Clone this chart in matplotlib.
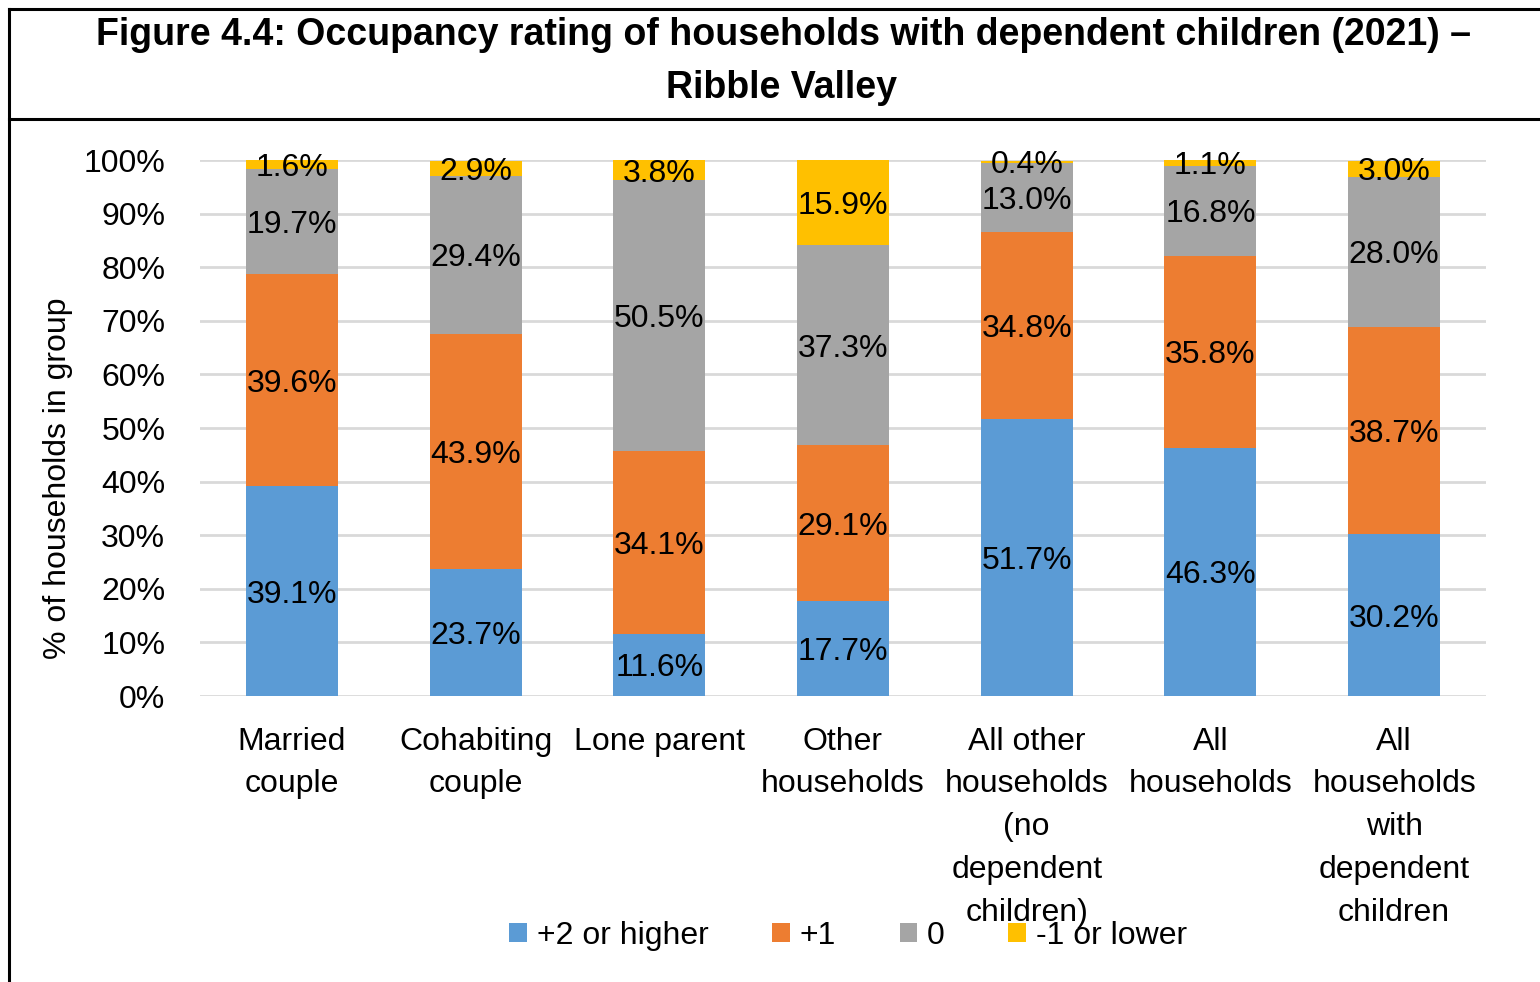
import matplotlib
matplotlib.use("Agg")
import matplotlib.pyplot as plt
from matplotlib.lines import Line2D
import numpy as np

categories = ["Married\ncouple", "Cohabiting\ncouple", "Lone parent", "Other\nhouseholds",
              "All other\nhouseholds\n(no\ndependent\nchildren)", "All\nhouseholds",
              "All\nhouseholds\nwith\ndependent\nchildren"]
series_names = ["+2 or higher", "+1", "0", "-1 or lower"]
plus2 = [39.1, 23.7, 11.6, 17.7, 51.7, 46.3, 30.2]
plus1 = [39.6, 43.9, 34.1, 29.1, 34.8, 35.8, 38.7]
zero = [19.7, 29.4, 50.5, 37.3, 13.0, 16.8, 28.0]
minus1 = [1.6, 2.9, 3.8, 15.9, 0.4, 1.1, 3.0]
colors = ["#5B9BD5", "#ED7D31", "#A5A5A5", "#FFC000"]
yticks = [0, 10, 20, 30, 40, 50, 60, 70, 80, 90, 100]

FONT = ["Liberation Sans", "DejaVu Sans"]
plt.rcParams["font.family"] = FONT

fig = plt.figure(figsize=(15.4, 9.82), dpi=100)
ax = fig.add_axes([200/1540, 1-696/982, (1486-200)/1540, (696-160)/982])

x = np.arange(len(categories))
bottom = np.zeros(len(categories))
for vals, c, name in zip([plus2, plus1, zero, minus1], colors, series_names):
    vals = np.array(vals)
    ax.bar(x, vals, width=0.5, bottom=bottom, color=c, label=name,
           linewidth=0, zorder=3)
    for xi, b, v in zip(x, bottom, vals):
        ax.text(xi, b + v/2, f"{v:.1f}%", ha="center", va="center_baseline",
                fontsize=23, color="black", zorder=4)
    bottom += vals

ax.set_xlim(-0.5, 6.5)
ax.set_ylim(0, 100)
ax.set_yticks(yticks)
ax.set_yticklabels([f"{t}%" for t in yticks], fontsize=23)
ax.set_xticks(x)
ax.set_xticklabels(categories, fontsize=23, linespacing=1.56, va="top")
ax.tick_params(axis="both", length=0)
ax.tick_params(axis="y", pad=25)
ax.tick_params(axis="x", pad=22)
ax.grid(axis="y", color="#D9D9D9", linewidth=2, zorder=0)
for s in ax.spines.values():
    s.set_visible(False)
ax.set_ylabel("% of households in group", fontsize=23)
ax.yaxis.set_label_coords((73-200)/1286, (696-478)/536)

title_font = ["Liberation Sans", "DejaVu Sans"]
fig.text(783/1540, 1-35/982, "Figure 4.4: Occupancy rating of households with dependent children (2021) \u2013",
         ha="center", va="center", fontsize=27, fontweight="bold", family=title_font)
fig.text(782/1540, 1-88/982, "Ribble Valley",
         ha="center", va="center", fontsize=27, fontweight="bold", family=title_font)

lw = 2.2
fig.add_artist(Line2D([9/1540, 1], [1-9/982, 1-9/982], color="black", lw=lw, transform=fig.transFigure))
fig.add_artist(Line2D([9/1540, 1], [1-119/982, 1-119/982], color="black", lw=lw, transform=fig.transFigure))
fig.add_artist(Line2D([9/1540, 9/1540], [0, 1-9/982], color="black", lw=lw, transform=fig.transFigure))

leg = fig.legend(loc="center", bbox_to_anchor=(848/1540, 1-936/982), ncol=4, frameon=False,
                 fontsize=23, handlelength=0.55, handleheight=0.55, handletextpad=0.3,
                 columnspacing=2.0)

fig.savefig("out.png", dpi=100)
